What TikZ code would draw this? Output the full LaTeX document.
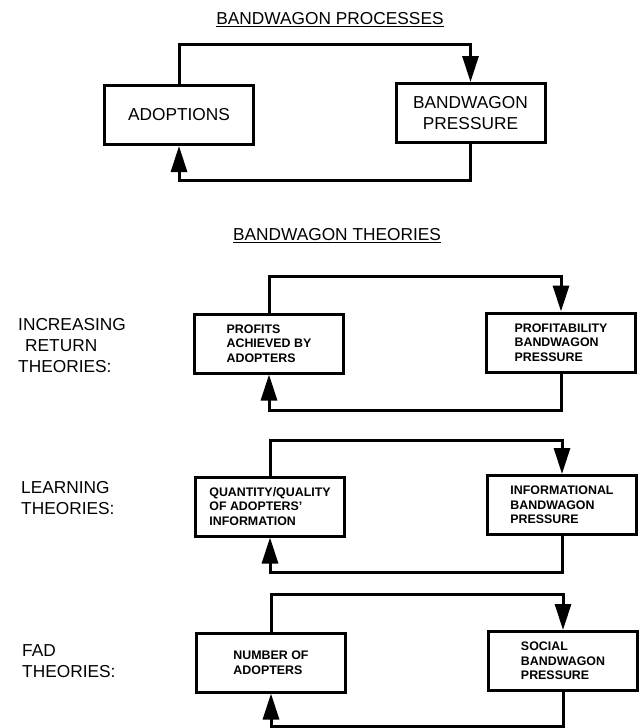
\documentclass[tikz,border=0pt]{standalone}
\usepackage{fontspec}
\setmainfont{Liberation Sans}
\usetikzlibrary{arrows.meta}

\begin{document}
\begin{tikzpicture}[x=1pt,y=-1pt,
  box/.style={draw,line width=3pt,minimum width=149pt,minimum height=59pt,inner sep=0pt,align=center,font=\fontsize{17.3}{20.5}\selectfont},
  sbox/.style={box,align=left,font=\fontsize{12.4}{14.5}\selectfont\bfseries},
  lbl/.style={anchor=west,align=left,inner sep=0pt,font=\fontsize{17.3}{21}\selectfont},
  ttl/.style={anchor=base,inner sep=0pt,font=\fontsize{17.3}{21}\selectfont},
  flow/.style={line width=3pt,-{Triangle[length=26pt,width=16pt]}}]
\useasboundingbox (0,0) rectangle (639,728);
\node(t1)[ttl] at (330,24.5) {\underline{BANDWAGON PROCESSES}};
\node(a1)[box] at (179,115) {ADOPTIONS};
\node(b1)[box] at (470.5,113) {BANDWAGON\\PRESSURE};
\coordinate (u1) at (0,44);
\coordinate (d1) at (0,180);
\draw[flow] (a1.north) -- (a1.north|-u1) -| (b1.north);
\draw[flow] (b1.south) -- (b1.south|-d1) -| (a1.south);

\node(t2)[ttl] at (337,240.5) {\underline{BANDWAGON THEORIES}};

\node(l2)[lbl] at (18,346) {INCREASING\\\hspace*{7pt}RETURN\\THEORIES:};
\node(a2)[sbox] at (269,343.5) {PROFITS\\ACHIEVED BY\\ADOPTERS};
\node(b2)[sbox] at (561,342.5) {PROFITABILITY\\BANDWAGON\\PRESSURE};
\coordinate (u2) at (0,276);
\coordinate (d2) at (0,410);
\draw[flow] (a2.north) -- (a2.north|-u2) -| (b2.north);
\draw[flow] (b2.south) -- (b2.south|-d2) -| (a2.south);

\node(l3)[lbl] at (21,498) {LEARNING\\THEORIES:};
\node(a3)[sbox] at (270,506.5) {QUANTITY/QUALITY\\OF ADOPTERS'\\INFORMATION};
\node(b3)[sbox] at (562,505) {INFORMATIONAL\\BANDWAGON\\PRESSURE};
\coordinate (u3) at (0,440);
\coordinate (d3) at (0,572);
\draw[flow] (a3.north) -- (a3.north|-u3) -| (b3.north);
\draw[flow] (b3.south) -- (b3.south|-d3) -| (a3.south);

\node(l4)[lbl] at (22,661) {FAD\\THEORIES:};
\node(a4)[sbox] at (271,662.5) {NUMBER OF\\ADOPTERS};
\node(b4)[sbox] at (563,661) {SOCIAL\\BANDWAGON\\PRESSURE};
\coordinate (u4) at (0,594);
\coordinate (d4) at (0,726);
\draw[flow] (a4.north) -- (a4.north|-u4) -| (b4.north);
\draw[flow] (b4.south) -- (b4.south|-d4) -| (a4.south);
\end{tikzpicture}
\end{document}
